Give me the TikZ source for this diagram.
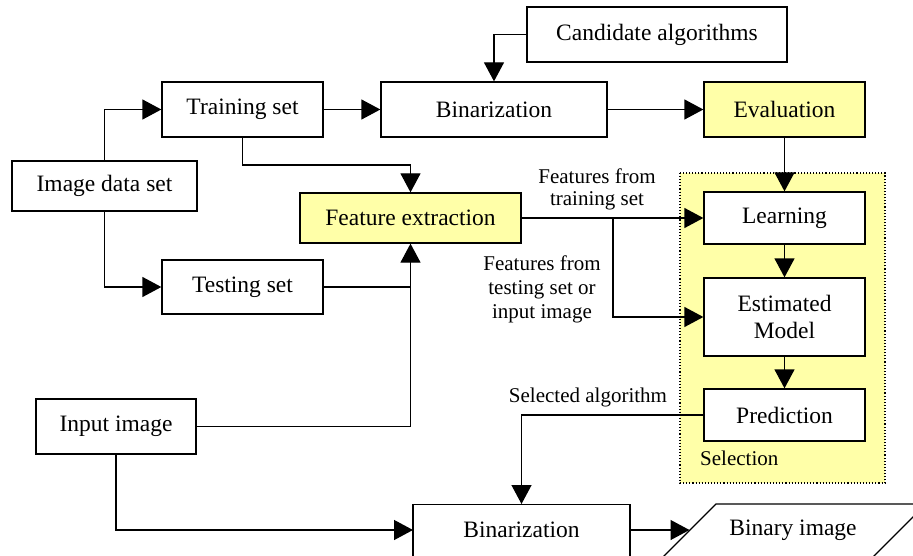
\documentclass[tikz,border=0pt]{standalone}
\usepackage{fontspec}
\setmainfont{Liberation Serif}
\usetikzlibrary{arrows.meta}
\definecolor{hl}{HTML}{FFFFA8}
\begin{document}
\begin{tikzpicture}[x=1pt,y=-1pt,
  box/.style={draw,line width=1.3pt,fill=white,inner sep=0pt,align=center,
    font=\fontsize{23.5}{27}\selectfont},
  hbox/.style={box,fill=hl},
  lbl/.style={inner sep=0pt,align=center,font=\fontsize{21}{23}\selectfont},
  conn/.style={line width=1.3pt},
  arr/.style={conn,-{Triangle[length=19pt,width=20pt]}}]
\useasboundingbox (0,0) rectangle (913,556);
% selection area
\draw[fill=hl,dotted,line width=1.1pt] (680,173) rectangle (885,483);
\node[lbl,anchor=west] (sel) at (700,458) {Selection};
% nodes
\node[box,minimum width=185pt,minimum height=50pt] (img) at (104.5,186) {Image data set};
\node[box,minimum width=161pt,minimum height=55pt] (train) at (242.5,109.5) {Training set};
\node[box,minimum width=161pt,minimum height=54pt] (test) at (242.5,287) {Testing set};
\node[box,minimum width=160pt,minimum height=55pt] (input) at (116,426.5) {Input image};
\node[box,minimum width=226pt,minimum height=55pt] (bin1) at (494,109.5) {Binarization};
\node[box,minimum width=260pt,minimum height=55pt] (cand) at (657,34.5) {Candidate algorithms};
\node[hbox,minimum width=161pt,minimum height=55pt] (eval) at (784.5,109.5) {Evaluation};
\node[hbox,minimum width=221pt,minimum height=50pt] (feat) at (410.5,218) {Feature extraction};
\node[box,minimum width=161pt,minimum height=52pt] (learn) at (784.5,218) {Learning};
\node[box,minimum width=161pt,minimum height=78pt] (est) at (784.5,317) {Estimated\\Model};
\node[box,minimum width=161pt,minimum height=52pt] (pred) at (784.5,415) {Prediction};
\node[box,minimum width=217pt,minimum height=53pt,anchor=north] (bin2) at (521.5,504) {\vphantom{Bg}};
\node[inner sep=0pt,font=\fontsize{23.5}{27}\selectfont] (bin2t) at (521.5,530) {Binarization};
% binary image parallelogram
\draw[line width=1.3pt,fill=white] (663,557) -- (716,504) -- (926,504) -- (873,557);
\coordinate (bi) at (689.5,530);
\node[inner sep=0pt,font=\fontsize{23.5}{27}\selectfont] (bintxt) at (793,530) {Binary image};
% labels
\node[lbl,font=\fontsize{21}{22}\selectfont] (l1) at (597,189) {Features from\\training set};
\node[lbl,font=\fontsize{21}{24}\selectfont] (l2) at (542,289) {Features from\\testing set or\\input image};
\node[lbl] (l3) at (588,397) {Selected algorithm};
% connectors
\coordinate (j1) at (242.5,165);
\coordinate (br) at (613,218);
\coordinate (bin2w) at (413,530);
\draw[arr] (img.north) |- (train.west);
\draw[arr] (img.south) |- (test.west);
\draw[arr] (train.east) -- (bin1.west);
\draw[arr] (cand.west) -| (bin1.north);
\draw[arr] (bin1.east) -- (eval.west);
\draw[arr] (eval.south) -- (learn.north);
\draw[arr] (train.south) -- (j1) -| (feat.north);
\draw[conn] (test.east) -| (feat.south);
\draw[arr] (input.east) -| (feat.south);
\draw[arr] (feat.east) -- (learn.west);
\draw[arr] (br) |- (est.west);
\draw[arr] (learn.south) -- (est.north);
\draw[arr] (est.south) -- (pred.north);
\draw[arr] (pred.west) -| (bin2.north);
\draw[arr] (input.south) |- (bin2w);
\draw[arr] (bin2.east |- bin2t) -- (bi);
\end{tikzpicture}
\end{document}
